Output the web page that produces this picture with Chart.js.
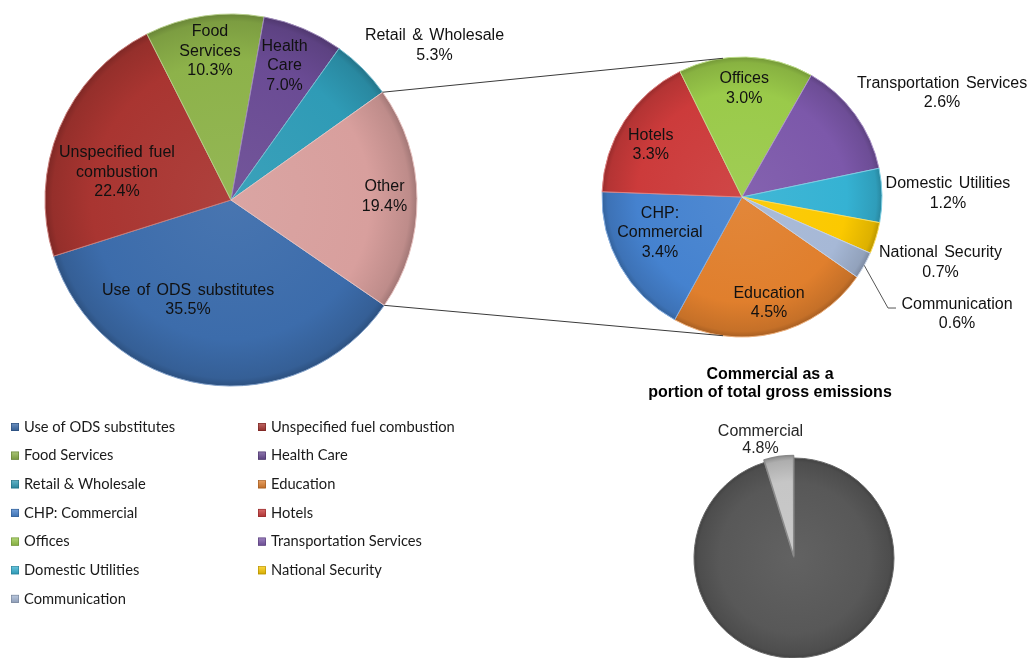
<!DOCTYPE html>
<html><head><meta charset="utf-8">
<script src="https://cdn.jsdelivr.net/npm/chart.js@4.4.1/dist/chart.umd.min.js"></script>
<style>
html,body{margin:0;padding:0;background:#fff;}
#wrap{position:relative;width:1032px;height:658px;overflow:hidden;background:#fff;}
#wrap canvas{position:absolute;left:0;top:0;}
</style></head><body>
<div id="wrap">
<canvas id="c1" width="1032" height="658"></canvas>
<canvas id="c2" width="1032" height="658"></canvas>
<canvas id="c3" width="1032" height="658"></canvas>
</div>
<script>
// ---------- DATA ----------
const mainLabels = ['Use of ODS substitutes','Unspecified fuel combustion','Food Services','Health Care','Retail & Wholesale','Other'];
const mainValues = [35.5, 22.4, 10.3, 7.0, 5.3, 19.4];
const otherLabels = ['Education','CHP: Commercial','Hotels','Offices','Transportation Services','Domestic Utilities','National Security','Communication'];
const otherValues = [4.5, 3.4, 3.3, 3.0, 2.6, 1.2, 0.7, 0.6];
const totalLabels = ['Non-commercial','Commercial'];
const totalValues = [95.2, 4.8];
const totalTitle = ['Commercial as a','portion of total gross emissions'];

// ---------- STYLE ----------
const mainColors = ['#3c6cab','#a93531','#8db24a','#6a4b94','#2f9bb6','#d89f9d'];
const otherColors = ['#e07f2d','#4582cf','#cc3b3b','#9aca4a','#7c58aa','#35b2d3','#fbc900','#a6b8d6'];
const totalColors = ['#585858','#c6c6c6'];
const FONT = "'Liberation Sans', Arial, sans-serif";
const LINE = 19.5;

// label text line breaks (display only)
const mainLines = [['Use of ODS substitutes'],['Unspecified fuel','combustion'],['Food','Services'],['Health','Care'],['Retail & Wholesale'],['Other']];
const otherLines = [['Education'],['CHP:','Commercial'],['Hotels'],['Offices'],['Transportation Services'],['Domestic Utilities'],['National Security'],['Communication']];
// label anchor positions relative to pie centre, in radius units
const mainPos = [[-0.231,0.537],[-0.613,-0.148],[-0.113,-0.800],[0.288,-0.720],[1.094,-0.830],[0.825,-0.018]];
const otherPos = [[0.193,0.757],[-0.586,0.256],[-0.652,-0.369],[0.016,-0.776],[1.429,-0.743],[1.471,-0.026],[1.418,0.468],[1.536,0.837]];

function rgb(h){h=h.replace('#','');return [0,2,4].map(i=>parseInt(h.substr(i,2),16));}
function mix(h,t,a){return 'rgb('+rgb(h).map(v=>Math.round(v+(t-v)*a)).join(',')+')';}
function radialFill(colors, radius){
  return (c)=>{
    const ch=c.chart, ca=ch.chartArea, base=colors[(c.dataIndex||0)%colors.length];
    if(!ca) return base;
    const cx=(ca.left+ca.right)/2, cy=(ca.top+ca.bottom)/2;
    const g=ch.ctx.createRadialGradient(cx,cy,0,cx,cy,radius);
    g.addColorStop(0, mix(base,255,0.06));
    g.addColorStop(0.75, base);
    g.addColorStop(0.96, mix(base,0,0.12));
    g.addColorStop(1, mix(base,0,0.25));
    return g;
  };
}
function labelPlugin(id, lines, values, pos, color){
  return {id, afterDatasetsDraw(chart){
    const ctx=chart.ctx, arcs=chart.getDatasetMeta(0).data;
    ctx.save(); ctx.font='16px '+FONT; ctx.fillStyle=color||'#111';
    ctx.textAlign='center'; ctx.textBaseline='middle';
    if ('wordSpacing' in ctx) ctx.wordSpacing='2px';
    lines.forEach((ln,i)=>{
      if(!pos[i]) return;
      const p=arcs[i].getProps(['x','y','outerRadius'],true);
      const px=p.x+p.outerRadius*pos[i][0], py=p.y+p.outerRadius*pos[i][1];
      const all=ln.concat([values[i].toFixed(1)+'%']);
      const n=all.length;
      all.forEach((t,k)=>ctx.fillText(t,px,py+(k-(n-1)/2)*LINE));
    });
    ctx.restore();
  }};
}
const legendPlugin = {id:'legendGrid', afterDraw(chart){
  const ctx=chart.ctx;
  const items=[], cols=[];
  mainLabels.forEach((l,i)=>{ if(l!=='Other'){items.push(l); cols.push(mainColors[i]);} });
  otherLabels.forEach((l,i)=>{items.push(l); cols.push(otherColors[i]);});
  ctx.save(); ctx.font="14.7px Lato, 'Open Sans', sans-serif"; ctx.textBaseline='middle'; ctx.textAlign='left';
  items.forEach((t,i)=>{
    const col=i%2, row=Math.floor(i/2);
    const sx=col?258:11, y=427+row*28.65;
    const g=ctx.createLinearGradient(0,y-4,0,y+4);
    g.addColorStop(0,mix(cols[i],255,0.25)); g.addColorStop(1,mix(cols[i],0,0.15));
    ctx.fillStyle=g; ctx.fillRect(sx,y-4,8,8);
    ctx.strokeStyle=mix(cols[i],0,0.3); ctx.lineWidth=0.6; ctx.strokeRect(sx+0.3,y-3.7,7.4,7.4);
    ctx.fillStyle='#1a1a1a'; ctx.fillText(t,sx+13,y);
  });
  ctx.restore();
}};

const common = {responsive:false, animation:false, events:[], devicePixelRatio:1,
  plugins:{legend:{display:false}, tooltip:{enabled:false}}};

const mainChart = new Chart(document.getElementById('c1'), {
  type:'pie',
  data:{labels:mainLabels, datasets:[{data:mainValues, backgroundColor:radialFill(mainColors,186),
    borderColor:mainColors.map(c=>mix(c,255,0.35)), borderWidth:1}]},
  options:Object.assign({}, common, {rotation:124.5, radius:186,
    layout:{padding:{left:45,top:14,right:615,bottom:272}}}),
  plugins:[labelPlugin('mainLabels', mainLines, mainValues, mainPos), legendPlugin]
});

const connectorPlugin = {id:'connectors', afterDatasetsDraw(chart){
  const ctx=chart.ctx;
  const m=mainChart.getDatasetMeta(0).data[mainLabels.indexOf('Other')].getProps(['x','y','outerRadius','startAngle','endAngle'],true);
  const arcs=chart.getDatasetMeta(0).data;
  const s=arcs[0].getProps(['x','y','outerRadius'],true);
  const a1=-Math.PI/2-0.136, a2=Math.PI/2+0.136;
  ctx.save(); ctx.strokeStyle='#3a3a3a'; ctx.lineWidth=1;
  ctx.beginPath();
  ctx.moveTo(m.x+m.outerRadius*Math.cos(m.startAngle), m.y+m.outerRadius*Math.sin(m.startAngle));
  ctx.lineTo(s.x+s.outerRadius*Math.cos(a1), s.y+s.outerRadius*Math.sin(a1));
  ctx.moveTo(m.x+m.outerRadius*Math.cos(m.endAngle), m.y+m.outerRadius*Math.sin(m.endAngle));
  ctx.lineTo(s.x+s.outerRadius*Math.cos(a2), s.y+s.outerRadius*Math.sin(a2));
  ctx.stroke();
  // leader line for Communication
  const ci=otherLabels.indexOf('Communication');
  const c=arcs[ci].getProps(['x','y','outerRadius','startAngle','endAngle'],true);
  const mid=(c.startAngle+c.endAngle)/2, r=c.outerRadius;
  ctx.strokeStyle='#555'; ctx.beginPath();
  ctx.moveTo(c.x+r*Math.cos(mid), c.y+r*Math.sin(mid));
  ctx.lineTo(c.x+r*1.043, c.y+r*0.793);
  ctx.lineTo(c.x+r*1.10, c.y+r*0.793);
  ctx.stroke();
  ctx.restore();
}};

const otherChart = new Chart(document.getElementById('c2'), {
  type:'pie',
  data:{labels:otherLabels, datasets:[{data:otherValues, backgroundColor:radialFill(otherColors,140),
    borderColor:otherColors.map(c=>mix(c,255,0.35)), borderWidth:1}]},
  options:Object.assign({}, common, {rotation:124.8, radius:140,
    layout:{padding:{left:602,top:57,right:150,bottom:321}}}),
  plugins:[labelPlugin('otherLabels', otherLines, otherValues, otherPos), connectorPlugin]
});

const totalPlugin = {id:'totalText', afterDatasetsDraw(chart){
  const ctx=chart.ctx, arcs=chart.getDatasetMeta(0).data;
  const p=arcs[1].getProps(['x','y','outerRadius'],true);
  ctx.save(); ctx.textAlign='center'; ctx.textBaseline='middle';
  ctx.font='bold 16px '+FONT; ctx.fillStyle='#000';
  totalTitle.forEach((t,k)=>ctx.fillText(t,770,375+k*17.5));
  ctx.font='16px '+FONT; ctx.fillStyle='#262626';
  const px=p.x-0.335*p.outerRadius, py=p.y-1.175*p.outerRadius;
  ctx.fillText(totalLabels[1], px, py-LINE/2+0.5);
  ctx.fillText(totalValues[1].toFixed(1)+'%', px, py+LINE/2-1.5);
  ctx.restore();
}};

const totalChart = new Chart(document.getElementById('c3'), {
  type:'pie',
  data:{labels:totalLabels, datasets:[{data:totalValues, backgroundColor:radialFill(totalColors,100),
    borderColor:['#6a6a6a','#8a8a8a'], borderWidth:[1,1.5], offset:[0,6]}]},
  options:Object.assign({}, common, {rotation:0, radius:100,
    layout:{padding:{left:694,top:458,right:138,bottom:0}}}),
  plugins:[totalPlugin]
});
</script>
</body></html>
